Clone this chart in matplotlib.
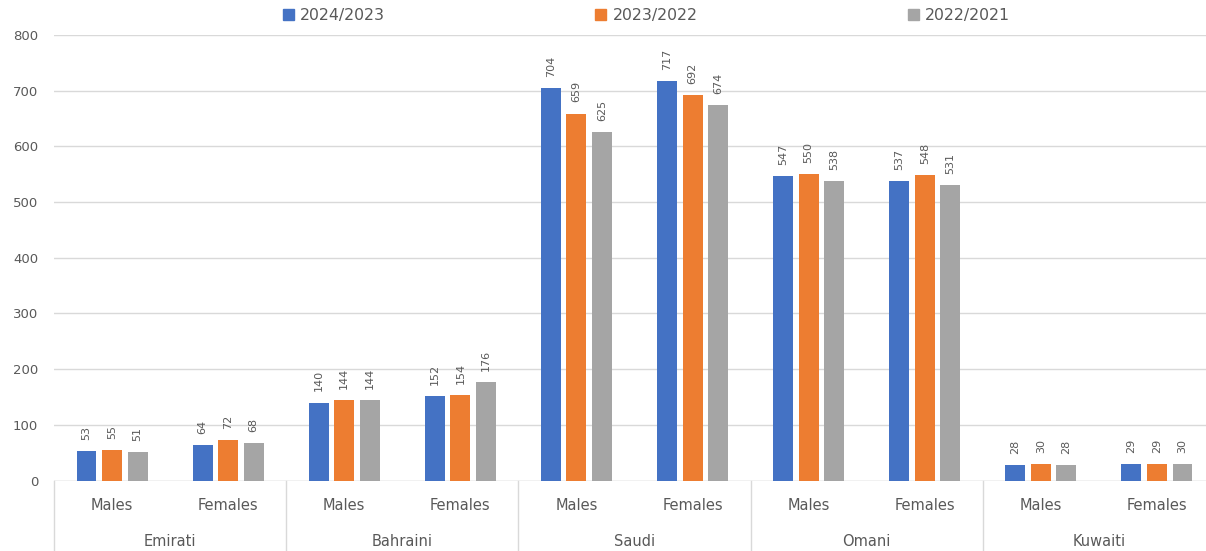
import numpy as np
import matplotlib.pyplot as plt
import matplotlib.transforms as mtransforms
from matplotlib.patches import Patch

# data
groups = ["Emirati", "Bahraini", "Saudi", "Omani", "Kuwaiti"]
genders = ["Males", "Females"]
series = ["2024/2023", "2023/2022", "2022/2021"]
y2024 = [53, 64, 140, 152, 704, 717, 547, 537, 28, 29]
y2023 = [55, 72, 144, 154, 659, 692, 550, 548, 30, 29]
y2022 = [51, 68, 144, 176, 625, 674, 538, 531, 28, 30]
colors = ["#4472C4", "#ED7D31", "#A5A5A5"]

txt = "#595959"
fig = plt.figure(figsize=(12.06, 5.51), dpi=100)
ax = fig.add_axes([54/1206, 1 - 480.5/551, (1215-54)/1206, 445.5/551])

n = len(y2024)
x = np.arange(n)
w = 0.172
offs = [-0.22, 0.0, 0.22]
for vals, off, c in zip([y2024, y2023, y2022], offs, colors):
    bars = ax.bar(x + off, vals, width=w, color=c, zorder=3)
    for b, v in zip(bars, vals):
        ax.annotate(str(v), (b.get_x() + b.get_width()/2, v), xytext=(0, 8),
                    textcoords="offset points", rotation=90, ha="center", va="bottom",
                    fontsize=8, color=txt)

ax.set_xlim(-0.5, n - 0.5)
ax.set_ylim(0, 800)
ax.set_yticks(range(0, 801, 100))
ax.tick_params(axis="y", length=0, pad=11.5, labelsize=9.5, labelcolor=txt)
ax.set_xticks([])
ax.grid(axis="y", color="#d9d9d9", linewidth=1, zorder=0)
for s in ax.spines.values():
    s.set_visible(False)
ax.axhline(0, color="#d9d9d9", linewidth=1, zorder=2)

# two-level category axis
trans = mtransforms.blended_transform_factory(ax.transData, ax.transAxes)
for i in range(n):
    ax.text(x[i], -0.055, genders[i % 2], transform=trans, ha="center", va="center",
            fontsize=10.5, color=txt)
for k, g in enumerate(groups):
    ax.text(2*k + 0.5, -0.136, g, transform=trans, ha="center", va="center",
            fontsize=10.5, color=txt)
for k in range(len(groups) + 1):
    ax.plot([2*k - 0.5, 2*k - 0.5], [0, -0.17], transform=trans, color="#d9d9d9",
            linewidth=1, clip_on=False)

handles = [Patch(color=c) for c in colors]
fig.legend(handles, series, loc="center", bbox_to_anchor=(0.536, 0.971), ncol=3,
           frameon=False, fontsize=11.3, labelcolor=txt, handlelength=0.7,
           handleheight=0.7, handletextpad=0.4, columnspacing=13.4)

fig.savefig("out.png", dpi=100)
